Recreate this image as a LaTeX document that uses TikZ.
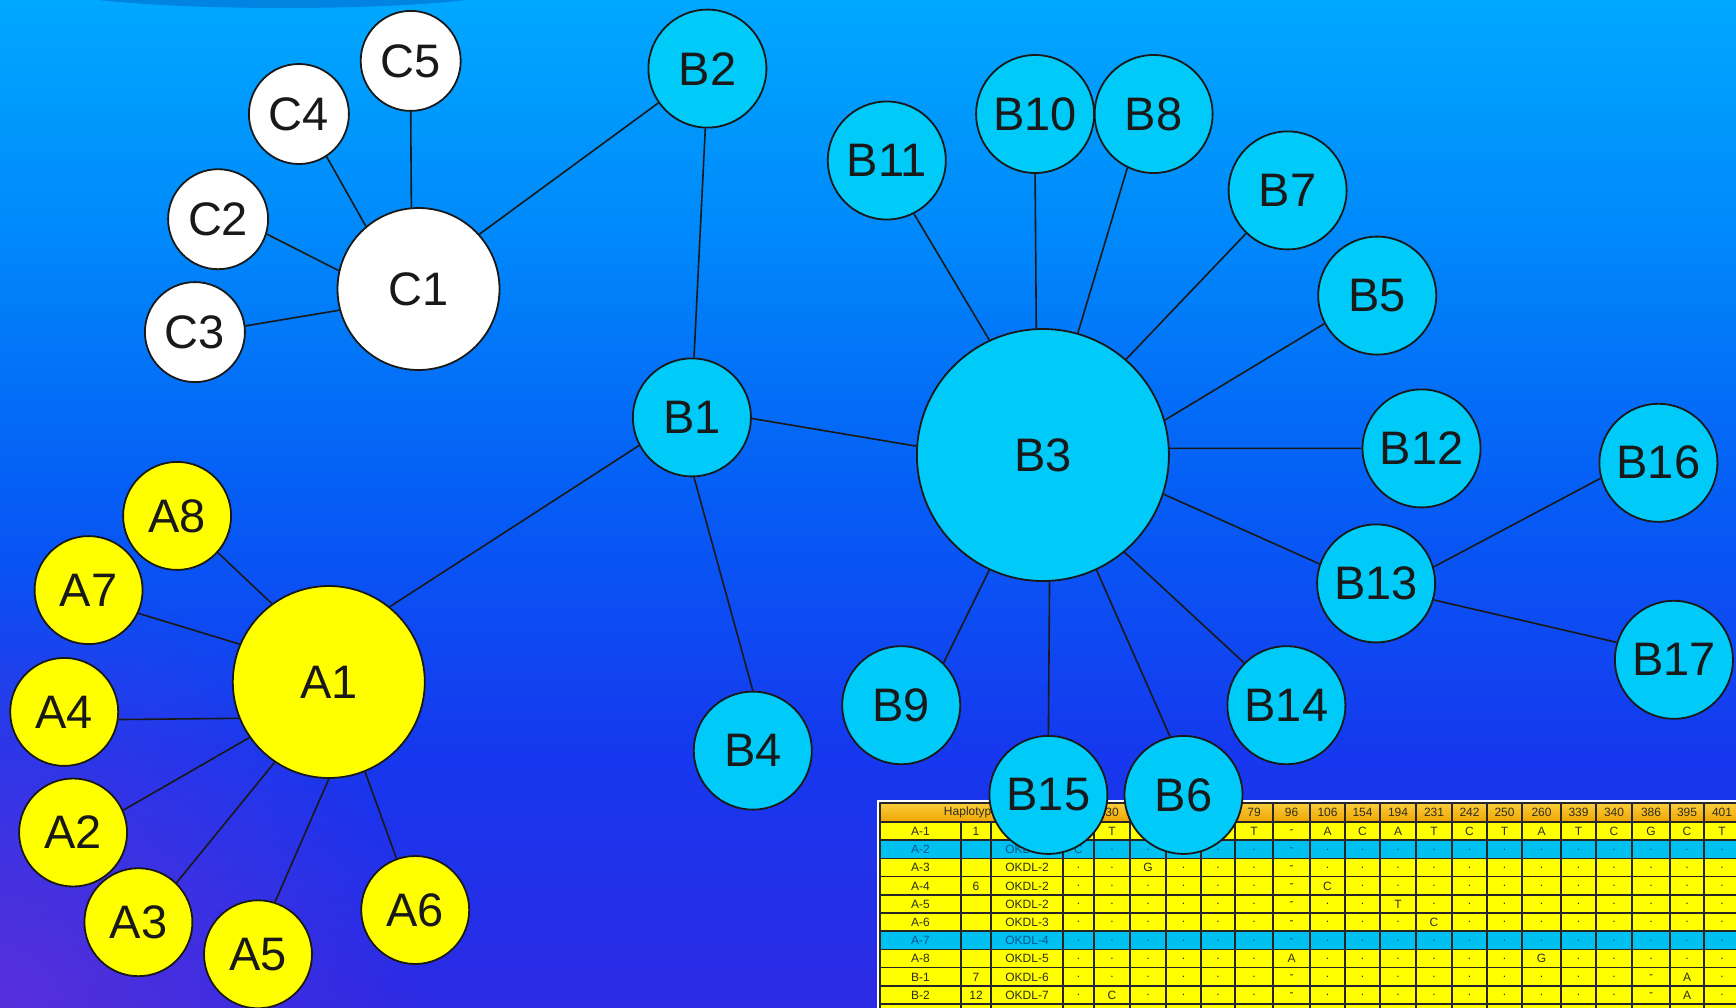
\documentclass[tikz,border=0pt]{standalone}
\usepackage{fontspec}
\setmainfont{Liberation Sans}
\usetikzlibrary{fadings}
\definecolor{bgtop}{RGB}{0,168,255}
\definecolor{bgA}{RGB}{0,134,250}
\definecolor{bgB}{RGB}{6,92,245}
\definecolor{bgC}{RGB}{22,56,238}
\definecolor{bgbot}{RGB}{45,42,228}
\definecolor{purp}{RGB}{105,50,215}
\definecolor{topband}{RGB}{0,120,215}
\definecolor{ncyan}{RGB}{0,202,248}
\definecolor{nyellow}{RGB}{255,255,0}
\definecolor{tyellow}{RGB}{255,255,0}
\definecolor{tcyan}{RGB}{0,192,240}
\definecolor{hdrtop}{RGB}{250,205,60}
\definecolor{hdrbot}{RGB}{238,165,0}
\definecolor{ttext}{RGB}{45,45,30}
\definecolor{tbtext}{RGB}{0,85,145}
\pgfdeclareverticalshading{bgshade}{100bp}{color(0bp)=(bgbot); color(25bp)=(bgbot); color(37.5bp)=(bgC); color(50bp)=(bgB); color(62.5bp)=(bgA); color(75bp)=(bgtop); color(100bp)=(bgtop)}
\tikzfading[name=radfade, inner color=transparent!0, outer color=transparent!100]
\newcommand\colx[1]{\ifcase#1 0\or920.5\or976\or1027\or1078.5\or1112\or1148\or1183.5\or1218\or1254\or1291.5\or1327.5\or1362.5\or1398\or1434\or1469.5\or1504.5\or1541.5\or1578.5\or1614\or1651\or1687\or1722\else 0\fi}
\begin{document}
\begin{tikzpicture}[x=1pt,y=-1pt,
  lbl/.style={font=\fontsize{47}{47}\selectfont, text=black!90},
  cnode/.style={circle, draw=black!90, line width=1.8pt, fill=white, inner sep=0pt, lbl},
  bnode/.style={circle, draw=black!90, line width=1.8pt, fill=ncyan, inner sep=0pt, lbl},
  anode/.style={circle, draw=black!90, line width=1.8pt, fill=nyellow, inner sep=0pt, lbl},
  smallc/.style={cnode, minimum size=100pt},
  bigc/.style={cnode, minimum size=162pt},
  smallb/.style={bnode, minimum size=118pt},
  bigb/.style={bnode, minimum size=252pt},
  smalla/.style={anode, minimum size=108pt},
  biga/.style={anode, minimum size=192pt},
  link/.style={draw=black!90, line width=1.6pt},
  tline/.style={draw=black!85, line width=1.5pt},
  cell/.style={font=\fontsize{12}{12}\selectfont, text=ttext, inner sep=0pt, anchor=center},
  bcell/.style={cell, text=tbtext}]
\useasboundingbox (0,0) rectangle (1736,1007);
\shade[shading=bgshade] (0,0) rectangle (1736,1007);
\fill[purp, fill opacity=0.7, path fading=radfade] (0,1007) circle [radius=430pt];
\fill[topband, fill opacity=0.75] (283,-12) ellipse [x radius=230pt, y radius=20pt];

% ---------- table ----------
\begin{scope}
\clip (0,0) rectangle (1736,1007);
\draw[white, line width=1.5pt] (878,801) rectangle (1760,1030);
\shade[top color=hdrtop, bottom color=hdrbot] (880,803) rectangle (1745,822);
\foreach \r in {1,...,11} {
  \pgfmathsetmacro\ya{822+18.2*(\r-1)}
  \pgfmathsetmacro\yb{\ya+18.2}
  \fill[tyellow] (880,\ya) rectangle (1745,\yb);
}
\foreach \r in {2,7} {
  \pgfmathsetmacro\ya{822+18.2*(\r-1)}
  \pgfmathsetmacro\yb{\ya+18.2}
  \fill[tcyan] (880,\ya) rectangle (1745,\yb);
}
\draw[tline] (880,803) -- (1745,803);
\foreach \r in {0,...,11} {
  \pgfmathsetmacro\ya{822+18.2*\r}
  \draw[tline] (880,\ya) -- (1745,\ya);
}
\foreach \xb in {880,1063,1094,1130,1166,1201,1235,1273,1310,1345,1380,1416,1452,1487,1522,1561,1596,1632,1670,1704} {
  \draw[tline] (\xb,803) -- (\xb,1010);
}
\foreach \xb in {961,991} {
  \draw[tline] (\xb,822) -- (\xb,1010);
}
% header
\node[cell] (h-name) at (971,812.5) {Haplotype};
\foreach \t [count=\c from 5] in {30,{},{},{},79,96,106,154,194,231,242,250,260,339,340,386,395,401} {
  \edef\cx{\colx{\c}}
  \node[cell] (h-\c) at (\cx,812.5) {\t};
}
% rows
\foreach \rowdata [count=\r] in {
 {A-1,1,{},{},T,{},{},{},T,-,A,C,A,T,C,T,A,T,C,G,C,T},
 {A-2,{},OKDL-1,C,.,.,{},.,.,-,.,.,.,.,.,.,.,.,.,.,.,.},
 {A-3,{},OKDL-2,.,.,G,.,.,.,-,.,.,.,.,.,.,.,.,.,.,.,.},
 {A-4,6,OKDL-2,.,.,.,.,.,.,-,C,.,.,.,.,.,.,.,.,.,.,.},
 {A-5,{},OKDL-2,.,.,.,.,.,.,-,.,.,T,.,.,.,.,.,.,.,.,.},
 {A-6,{},OKDL-3,.,.,.,.,.,.,-,.,.,.,C,.,.,.,.,.,.,.,.},
 {A-7,{},OKDL-4,.,.,.,.,.,.,-,.,.,.,.,.,.,.,.,.,.,.,.},
 {A-8,{},OKDL-5,.,.,.,.,.,.,A,.,.,.,.,.,.,G,.,.,.,.,.},
 {B-1,7,OKDL-6,.,.,.,.,.,.,-,.,.,.,.,.,.,.,.,.,-,A,.},
 {B-2,12,OKDL-7,.,C,.,.,.,.,-,.,.,.,.,.,.,.,.,.,-,A,.}} {
  \pgfmathsetmacro\cy{822+18.2*(\r-1)+9.3}
  \ifnum\r=2 \def\cst{bcell}\else\ifnum\r=7 \def\cst{bcell}\else\def\cst{cell}\fi\fi
  \foreach \t [count=\c] in \rowdata {
    \edef\cx{\colx{\c}}
    \node[\cst] (t-\r-\c) at (\cx,\cy) {\t};
  }
}
\end{scope}

% ---------- nodes ----------
\node[smallc] (C5) at (410.7,60.9) {C5};
\node[smallc] (C4) at (298.9,114.0) {C4};
\node[smallc] (C2) at (218.1,219.2) {C2};
\node[smallc] (C3) at (194.9,332.1) {C3};
\node[bigc]   (C1) at (418.5,289.0) {C1};

\node[smallb] (B2)  at (707.4,68.6) {B2};
\node[smallb] (B1)  at (691.9,417.4) {B1};
\node[bigb]   (B3)  at (1042.9,455.0) {B3};
\node[smallb] (B11) at (886.8,160.5) {B11};
\node[smallb] (B10) at (1035.1,114.0) {B10};
\node[smallb] (B8)  at (1153.6,114.0) {B8};
\node[smallb] (B7)  at (1287.6,190.4) {B7};
\node[smallb] (B5)  at (1377.2,295.6) {B5};
\node[smallb] (B12) at (1421.5,448.4) {B12};
\node[smallb] (B16) at (1658.4,462.8) {B16};
\node[smallb] (B13) at (1376.1,583.4) {B13};
\node[smallb] (B17) at (1673.9,659.8) {B17};
\node[smallb] (B14) at (1286.4,705.2) {B14};
\node[smallb] (B6)  at (1183.5,794.9) {B6};
\node[smallb] (B15) at (1048.4,794.9) {B15};
\node[smallb] (B9)  at (901.2,705.2) {B9};
\node[smallb] (B4)  at (752.8,750.6) {B4};

\node[biga]   (A1) at (328.8,682.0) {A1};
\node[smalla] (A8) at (177.1,515.9) {A8};
\node[smalla] (A7) at (88.6,590.1) {A7};
\node[smalla] (A4) at (64.2,711.9) {A4};
\node[smalla] (A2) at (73.1,832.5) {A2};
\node[smalla] (A3) at (138.4,922.2) {A3};
\node[smalla] (A5) at (258.0,954.3) {A5};
\node[smalla] (A6) at (415.2,910.0) {A6};

% ---------- connectors ----------
\draw[link] (C5.270) -- (C1.95.5);
\draw[link] (C4.-57) -- (C1.130.5);
\draw[link] (C2.-17) -- (C1.167);
\draw[link] (C3.7.6) -- (C1.195.3);
\draw[link] (C1.42.2) -- (B2.215.3);
\draw[link] (B2.268) -- (B1.88);
\draw[link] (B1.-1) -- (B3.176.5);
\draw[link] (B1.208.3) -- (A1.51.3);
\draw[link] (B1.-88) -- (B4.90);
\draw[link] (B3.115.4) -- (B11.-63.9);
\draw[link] (B3.93.5) -- (B10.270);
\draw[link] (B3.74) -- (B8.-116);
\draw[link] (B3.49.9) -- (B7.226.4);
\draw[link] (B3.16.6) -- (B5.208.2);
\draw[link] (B3.3) -- (B12.180);
\draw[link] (B3.-18) -- (B13.161.6);
\draw[link] (B3.-50.5) -- (B14.135.8);
\draw[link] (B3.-65.2) -- (B6.103.2);
\draw[link] (B3.-87.5) -- (B15.90);
\draw[link] (B3.-115.4) -- (B9.45.7);
\draw[link] (B13.16.5) -- (B16.195.1);
\draw[link] (B13.-16.5) -- (B17.163.6);
\draw[link] (A1.126.5) -- (A8.-42.6);
\draw[link] (A1.157.9) -- (A7.-25);
\draw[link] (A1.202) -- (A4.-8.9);
\draw[link] (A1.215.2) -- (A2.24);
\draw[link] (A1.236.1) -- (A3.46.6);
\draw[link] (A1.-90.7) -- (A5.72.3);
\draw[link] (A1.-68.9) -- (A6.110.7);
\end{tikzpicture}
\end{document}
